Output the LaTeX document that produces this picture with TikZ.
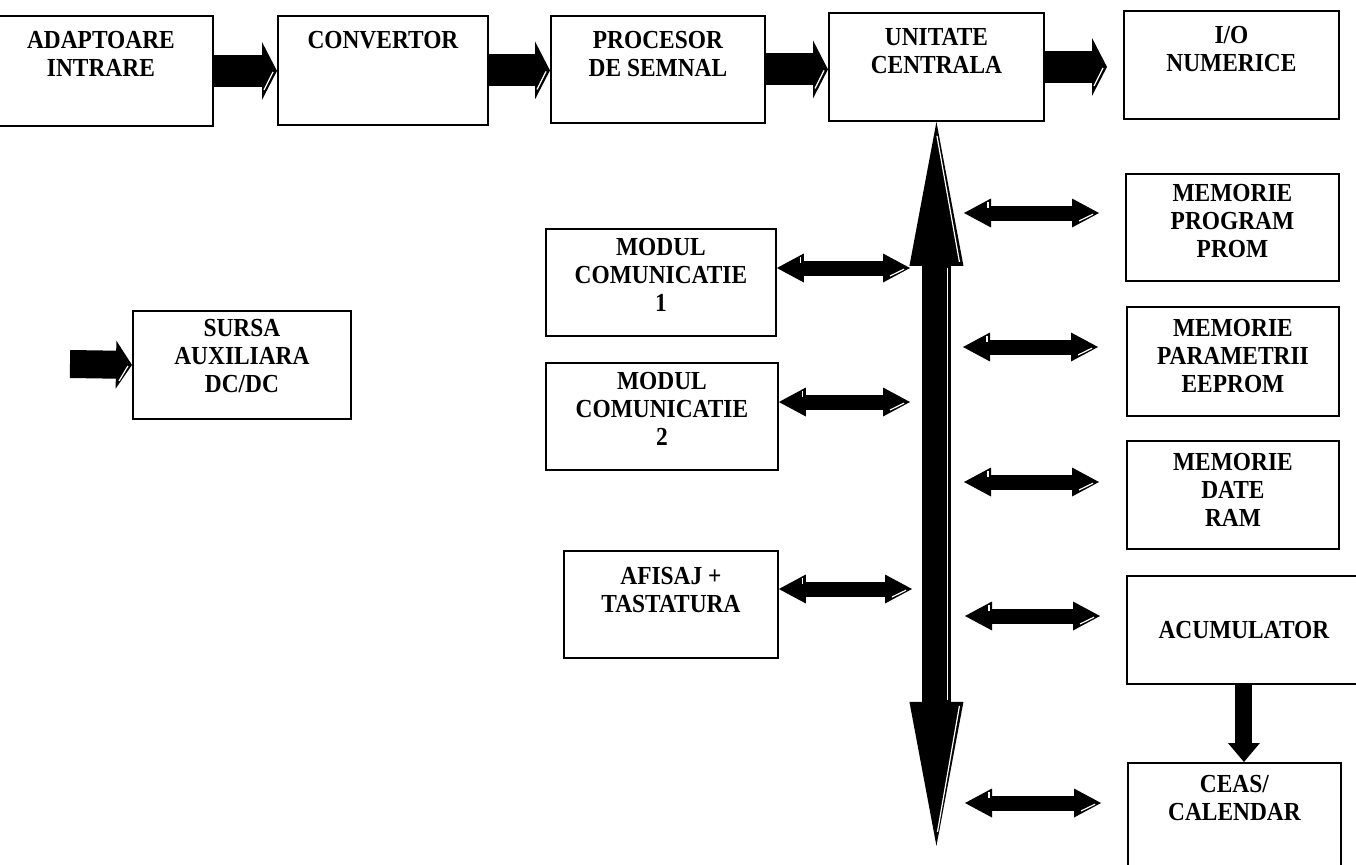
\documentclass[tikz,border=0pt]{standalone}
\usepackage{fontspec}
\newfontfamily\lblfont{Liberation Serif}[FakeStretch=0.9]
\usetikzlibrary{arrows.meta,calc}
% thin white highlight drawn on a filled arrow head, offsets in pixels from a point
\newcommand\bevel[5]{\draw[bevelline] ($(#1)+(#2,#3)$) -- ($(#1)+(#4,#5)$);}
\begin{document}
\begin{tikzpicture}[x=0.75pt,y=-0.75pt,
  txt/.style={font=\lblfont\bfseries\fontsize{19.5pt}{21pt}\selectfont, align=center, inner sep=0pt},
  box/.style={draw, line width=1.4pt, inner sep=0pt, anchor=north west},
  bx/.style 2 args={minimum width=#1*0.75pt, minimum height=#2*0.75pt},
  lab/.style 2 args={label={[txt,anchor=north,yshift=-#1]north:{#2}}},
  fatarrow/.style={line width=24pt, -{Triangle[length=11.25pt,width=43.5pt,line width=0pt]}},
  fatsmall/.style={line width=21pt, -{Triangle[length=12pt,width=36pt,line width=0pt]}},
  busarrow/.style={line width=21.75pt,
    {Triangle[length=108pt,width=40.5pt,line width=0pt]}-{Triangle[length=108pt,width=40.5pt,line width=0pt]}},
  dblarrow/.style={line width=11.25pt,
    {Triangle[length=20.25pt,width=21.75pt,line width=0pt]}-{Triangle[length=20.25pt,width=21.75pt,line width=0pt]}},
  downarrow/.style={line width=12.75pt, -{Triangle[length=14.25pt,width=24pt,line width=0pt]}},
  bevelline/.style={draw=white, line width=0.9pt}
]
\useasboundingbox (0,0) rectangle (1356,864);
\clip (0,0) rectangle (1356,864);

% signal chain
\node[box,bx={224}{110},lab={12pt}{ADAPTOARE\\INTRARE}] (adapt) at (-12,15) {};
\node[box,bx={210}{109},lab={12pt}{CONVERTOR}] (conv) at (277,15) {};
\node[box,bx={214}{107},lab={12pt}{PROCESOR\\DE SEMNAL}] (proc) at (550,15) {};
\node[box,bx={215}{108},lab={12pt}{UNITATE\\CENTRALA}] (cpu) at (828,12) {};
\node[box,bx={215}{108},lab={12pt}{I/O\\NUMERICE}] (io) at (1123,10) {};

% left side modules
\node[box,bx={230}{107},lab={7.5pt}{MODUL\\COMUNICATIE\\1}] (com1) at (545,228) {};
\node[box,bx={232}{107},lab={7.5pt}{MODUL\\COMUNICATIE\\2}] (com2) at (545,362) {};
\node[box,bx={214}{107},lab={13pt}{AFISAJ +\\TASTATURA}] (disp) at (563,550) {};
\node[box,bx={218}{108},lab={6.5pt}{SURSA\\AUXILIARA\\DC/DC}] (psu) at (132,310) {};

% right side modules
\node[box,bx={213}{107},lab={8.5pt}{MEMORIE\\PROGRAM\\PROM}] (prom) at (1125,173) {};
\node[box,bx={212}{109},lab={9.5pt}{MEMORIE\\PARAMETRII\\EEPROM}] (eeprom) at (1126,306) {};
\node[box,bx={212}{108},lab={10pt}{MEMORIE\\DATE\\RAM}] (ram) at (1126,440) {};
\node[box,bx={234}{108},txt] (acc) at (1126,575) {ACUMULATOR};
\node[box,bx={213}{118},lab={9.5pt}{CEAS/\\CALENDAR}] (rtc) at (1127,762) {};

% signal chain arrows
\coordinate (t1) at (adapt.east -| conv.west);
\coordinate (t2) at (conv.east -| proc.west);
\coordinate (t3) at (proc.east -| cpu.west);
\coordinate (t4) at ($(cpu.east -| io.west)+(-16,0)$);
\draw[fatarrow] (adapt.east) -- (t1);
\draw[fatarrow] (conv.east) -- (t2);
\draw[fatarrow] (proc.east) -- (t3);
\draw[fatarrow] (cpu.east) -- (t4);
\foreach \t in {t1,t2,t3,t4}{\bevel{\t}{-4}{1}{-13}{19}}

% supply input
\coordinate (psuin) at (70,364);
\draw[fatsmall] (psuin) -- (psu.west);
\bevel{psu.west}{-4}{1}{-13}{16}

% system bus
\path (cpu.south) ++(0,724) coordinate (busend);
\draw[busarrow] (busend) -- (cpu.south);
\bevel{cpu.south}{0.5}{14}{23}{140}
\bevel{cpu.south}{11}{146}{11}{578}
\bevel{busend}{23}{-140}{1}{-14}

% bus links, left
\coordinate (c1) at (910,268);
\coordinate (c2) at (910,402);
\coordinate (c3) at (912,589);
\draw[dblarrow] (com1.east |- c1) coordinate (d1) -- (c1);
\draw[dblarrow] (com2.east |- c2) coordinate (d2) -- (c2);
\draw[dblarrow] (disp.east |- c3) coordinate (d3) -- (c3);

% bus links, right
\coordinate (p1) at (964,213);  \coordinate (q1) at (1099,213);
\coordinate (p2) at (963,347);  \coordinate (q2) at (1098,347);
\coordinate (p3) at (964,482);  \coordinate (q3) at (1099,482);
\coordinate (p4) at (965,616);  \coordinate (q4) at (1100,616);
\coordinate (p5) at (965,803);  \coordinate (q5) at (1101,803);
\draw[dblarrow] (p1) -- (q1);
\draw[dblarrow] (p2) -- (q2);
\draw[dblarrow] (p3) -- (q3);
\draw[dblarrow] (p4) -- (q4);
\draw[dblarrow] (p5) -- (q5);

% highlights on the double heads
\foreach \a/\b in {d1/c1,d2/c2,d3/c3,p1/q1,p2/q2,p3/q3,p4/q4,p5/q5}{
  \bevel{\b}{-6}{1.2}{-20}{8}
  \bevel{\a}{24}{-11}{24}{-5}
}

% accumulator to clock
\draw[downarrow] (acc.south) -- (acc.south |- rtc.north);
\end{tikzpicture}
\end{document}
